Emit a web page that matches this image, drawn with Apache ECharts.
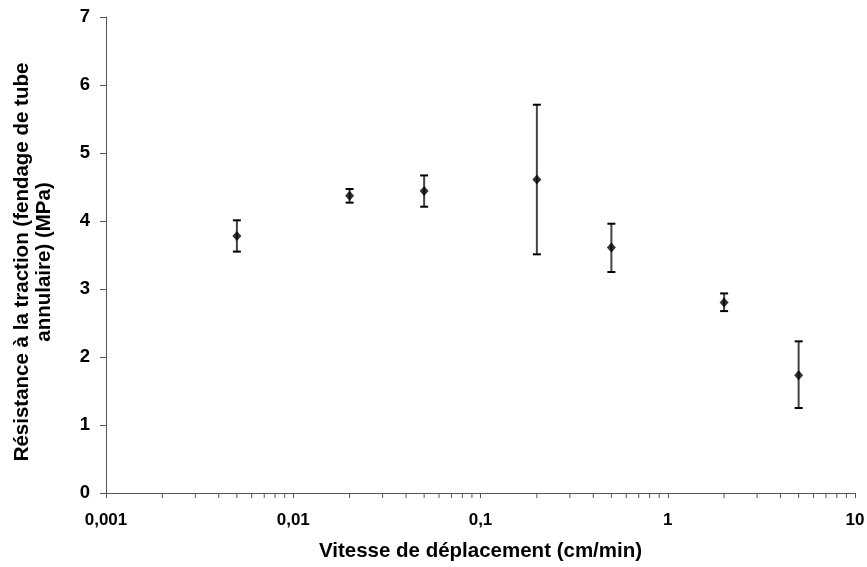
<!DOCTYPE html>
<html>
<head>
<meta charset="utf-8">
<script src="https://cdn.jsdelivr.net/npm/echarts@6/dist/echarts.min.js"></script>
<style>
html,body{margin:0;padding:0;background:#fff;}
#chart{width:867px;height:567px;}
</style>
</head>
<body>
<div id="chart"></div>
<script>
// Data
const speeds = [0.005, 0.02, 0.05, 0.2, 0.5, 2, 5];
const means  = [3.78, 4.37, 4.44, 4.61, 3.61, 2.80, 1.73];
const lows   = [3.55, 4.27, 4.21, 3.51, 3.25, 2.675, 1.25];
const highs  = [4.01, 4.47, 4.67, 5.71, 3.96, 2.935, 2.23];
const xTickLabels = {0.001: '0,001', 0.01: '0,01', 0.1: '0,1', 1: '1', 10: '10'};
const yTicks = [0, 1, 2, 3, 4, 5, 6, 7];
const minorTickValues = [];
[0.001, 0.01, 0.1, 1].forEach(function (d) {
  for (let k = 2; k <= 9; k++) minorTickValues.push(+(d * k).toPrecision(3));
});

const FONT = '"Liberation Sans", Arial, sans-serif';
const chart = echarts.init(document.getElementById('chart'), null, {renderer: 'canvas'});

const errData = speeds.map((s, i) => [s, lows[i], highs[i]]);
const ptData = speeds.map((s, i) => [s, means[i]]);
const minorData = minorTickValues.map(v => [v, 0]);

chart.setOption({
  animation: false,
  backgroundColor: '#fff',
  grid: {left: 106, right: 12, top: 17, bottom: 74, containLabel: false, outerBoundsMode: 'none'},
  xAxis: {
    type: 'log',
    logBase: 10,
    min: 0.001,
    max: 10,
    name: 'Vitesse de déplacement (cm/min)',
    nameLocation: 'middle',
    nameGap: 48,
    nameTextStyle: {fontFamily: FONT, fontWeight: 'bold', fontSize: 20.5, color: '#000'},
    axisLine: {lineStyle: {color: '#555', width: 1}},
    axisTick: {show: true, length: 5, inside: false, lineStyle: {color: '#555'}},
    splitLine: {show: false},
    axisLabel: {
      fontFamily: FONT, fontWeight: 'bold', fontSize: 17, color: '#000', margin: 19,
      formatter: function (v) {
        const key = +(+v).toPrecision(3);
        return xTickLabels[key] !== undefined ? xTickLabels[key] : '';
      }
    }
  },
  yAxis: {
    type: 'value',
    min: 0, max: 7, interval: 1,
    name: 'Résistance à la traction (fendage de tube\nannulaire) (MPa)',
    nameLocation: 'middle',
    nameGap: 51,
    nameRotate: 90,
    nameTextStyle: {fontFamily: FONT, fontWeight: 'bold', fontSize: 20.5, color: '#000', lineHeight: 22, align: 'center', padding: [0, 14, 0, 0]},
    axisLine: {show: true, lineStyle: {color: '#555', width: 1}},
    axisTick: {show: true, length: 6, inside: false, lineStyle: {color: '#555'}},
    splitLine: {show: false},
    axisLabel: {
      fontFamily: FONT, fontWeight: 'bold', fontSize: 18.5, color: '#000', margin: 16,
      formatter: function (v) { return yTicks.indexOf(v) >= 0 ? String(v) : ''; }
    }
  },
  series: [
    {
      type: 'custom',
      name: 'minorTicks',
      silent: true,
      clip: false,
      data: minorData,
      renderItem: function (params, api) {
        const p = api.coord([api.value(0), api.value(1)]);
        return {
          type: 'line',
          shape: {x1: p[0], y1: p[1], x2: p[0], y2: p[1] + 5},
          style: {stroke: '#555', lineWidth: 1}
        };
      },
      z: 1
    },
    {
      type: 'custom',
      name: 'errors',
      silent: true,
      data: errData,
      renderItem: function (params, api) {
        const x = api.value(0);
        const lo = api.coord([x, api.value(1)]);
        const hi = api.coord([x, api.value(2)]);
        const hw = 4;
        return {
          type: 'group',
          children: [
            {type: 'line', shape: {x1: lo[0], y1: lo[1], x2: hi[0], y2: hi[1]}, style: {stroke: '#444', lineWidth: 2}},
            {type: 'line', shape: {x1: lo[0] - hw, y1: lo[1], x2: lo[0] + hw, y2: lo[1]}, style: {stroke: '#000', lineWidth: 2}},
            {type: 'line', shape: {x1: hi[0] - hw, y1: hi[1], x2: hi[0] + hw, y2: hi[1]}, style: {stroke: '#000', lineWidth: 2}}
          ]
        };
      },
      z: 2
    },
    {
      type: 'scatter',
      name: 'mean',
      data: ptData,
      symbol: 'diamond',
      symbolSize: [9, 10],
      itemStyle: {color: '#000'},
      z: 3
    }
  ]
});
</script>
</body>
</html>
